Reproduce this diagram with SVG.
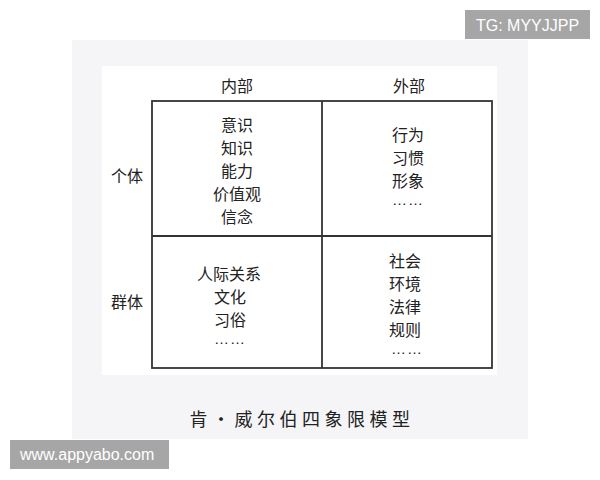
<svg xmlns="http://www.w3.org/2000/svg" width="600" height="480" viewBox="0 0 600 480">
<style>
.t{font-family:"Noto Sans CJK SC","Noto Sans CJK TC",sans-serif;font-size:16px;fill:#222;text-anchor:middle}
.d{font-family:"Liberation Sans",sans-serif;font-size:15px;fill:#222;text-anchor:middle;letter-spacing:1px}
.g{fill:none;stroke:#333;stroke-width:1.8}
.wm{font-family:"Liberation Sans",sans-serif;font-size:16px;fill:#fff}
</style>
<rect x="0" y="0" width="600" height="480" fill="#fff"/>
<rect x="72" y="40" width="456" height="399" fill="#f5f5f7"/>
<rect x="102" y="66" width="395" height="309" fill="#fff"/>
<g id="grid">
<rect class="g" x="152" y="101" width="340" height="267"/>
<line class="g" x1="322" y1="101" x2="322" y2="368"/>
<line class="g" x1="152" y1="236" x2="492" y2="236"/>
</g>
<g id="headers">
<text class="t" x="237" y="92">内部</text>
<text class="t" x="409" y="92">外部</text>
<text class="t" x="127" y="182">个体</text>
<text class="t" x="127" y="308">群体</text>
</g>
<g id="q1">
<text class="t" x="237" y="131">意识</text>
<text class="t" x="237" y="154">知识</text>
<text class="t" x="237" y="177">能力</text>
<text class="t" x="237" y="200">价值观</text>
<text class="t" x="237" y="223">信念</text>
</g>
<g id="q2">
<text class="t" x="408" y="141">行为</text>
<text class="t" x="408" y="164">习惯</text>
<text class="t" x="408" y="187">形象</text>
<text class="d" x="408" y="205">……</text>
</g>
<g id="q3">
<text class="t" x="229" y="280">人际关系</text>
<text class="t" x="230" y="303">文化</text>
<text class="t" x="230" y="326">习俗</text>
<text class="d" x="230" y="344">……</text>
</g>
<g id="q4">
<text class="t" x="405" y="267">社会</text>
<text class="t" x="405" y="290">环境</text>
<text class="t" x="405" y="313">法律</text>
<text class="t" x="405" y="336">规则</text>
<text class="d" x="407" y="354">……</text>
</g>
<text id="caption" class="t" x="302" y="426" style="font-size:18px;letter-spacing:4.5px">肯・威尔伯四象限模型</text>
<g id="wm1"><rect x="465" y="10" width="125" height="29" fill="#a6a6a6"/><text class="wm" x="476" y="31">TG: MYYJJPP</text></g>
<g id="wm2"><rect x="10" y="440" width="159" height="29" fill="#a6a6a6"/><text class="wm" x="20" y="460">www.appyabo.com</text></g>
</svg>
